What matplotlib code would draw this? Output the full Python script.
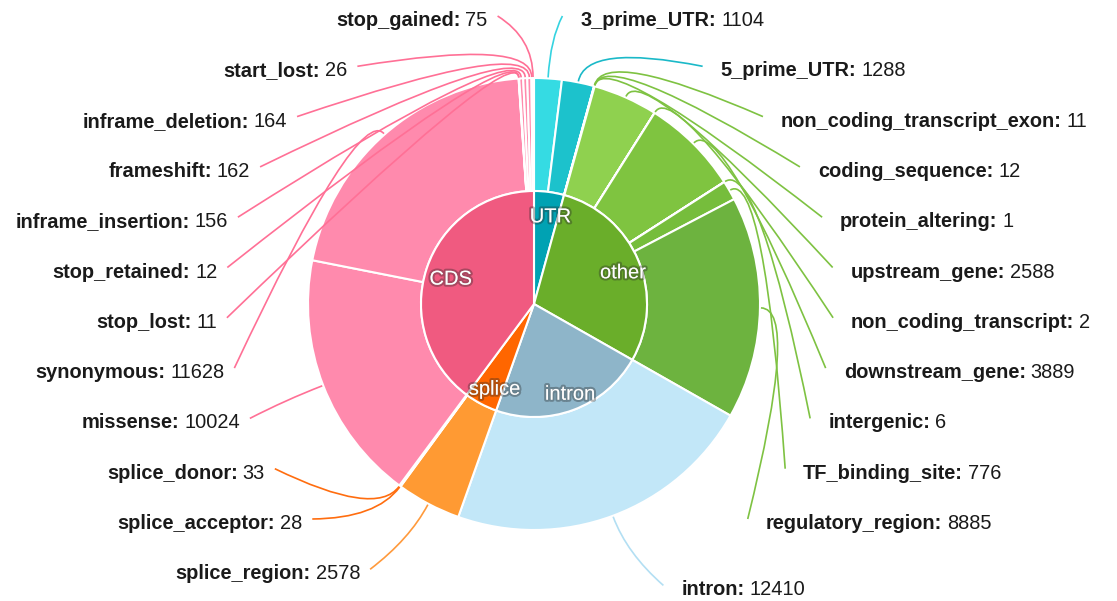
import numpy as np
import matplotlib
matplotlib.use("Agg")
import matplotlib.pyplot as plt
from matplotlib.path import Path
from matplotlib.patches import PathPatch
import matplotlib.patheffects as pe

plt.rcParams['font.family'] = ['Liberation Sans', 'DejaVu Sans']

# inner ring (clockwise from 12 o'clock)
groups = ["UTR", "other", "intron", "splice", "CDS"]
group_colors = ["#00a2b3", "#6aae2a", "#8eb5c9", "#ff6600", "#f05a80"]

# outer ring, per group, clockwise
utr_names = ["3_prime_UTR", "5_prime_UTR"]
utr_counts = [1104, 1288]
other_names = ["non_coding_transcript_exon", "coding_sequence", "protein_altering",
               "upstream_gene", "non_coding_transcript", "downstream_gene",
               "intergenic", "TF_binding_site", "regulatory_region"]
other_counts = [11, 12, 1, 2588, 2, 3889, 6, 776, 8885]
intron_names = ["intron"]
intron_counts = [12410]
splice_names = ["splice_region", "splice_acceptor", "splice_donor"]
splice_counts = [2578, 28, 33]
cds_names = ["missense", "synonymous", "stop_lost", "stop_retained", "inframe_insertion",
             "frameshift", "inframe_deletion", "start_lost", "stop_gained"]
cds_counts = [10024, 11628, 11, 12, 156, 162, 164, 26, 75]

# styles
utr_fill = ["#35dbe3", "#1cc2cc"]
utr_line = ["#35d3e0", "#1bb9c8"]
other_fill = ["#8fd14f", "#8fd14f", "#8fd14f", "#8fd14f", "#7fc440",
              "#7fc440", "#76bd3c", "#76bd3c", "#6db33f"]
other_line = "#7ec242"
intron_fill = "#c2e7f8"
intron_line = "#b3dff3"
splice_fill = ["#ff9a33", "#ff9a33", "#ff9a33"]
splice_line = ["#ff9a3c", "#ff6d0f", "#ff6d0f"]
cds_fill = "#ff8aad"
cds_line = "#ff7096"

W, H = 1117, 601
cx, cy = 534, H - 304
r_in, r_out = 113, 226

group_counts = [sum(utr_counts), sum(other_counts), sum(intron_counts),
                sum(splice_counts), sum(cds_counts)]
outer_names = utr_names + other_names + intron_names + splice_names + cds_names
outer_counts = utr_counts + other_counts + intron_counts + splice_counts + cds_counts
outer_fill = utr_fill + other_fill + [intron_fill] + splice_fill + [cds_fill] * len(cds_names)
outer_line = utr_line + [other_line] * len(other_names) + [intron_line] + splice_line + \
    [cds_line] * len(cds_names)

fig = plt.figure(figsize=(W / 100, H / 100), dpi=100)
ax = fig.add_axes([0, 0, 1, 1])

outer, _ = ax.pie(outer_counts, radius=r_out, center=(cx, cy), startangle=90,
                  counterclock=False, colors=outer_fill, frame=True,
                  wedgeprops=dict(width=r_out - r_in, edgecolor="white", linewidth=1.5))
inner, _ = ax.pie(group_counts, radius=r_in, center=(cx, cy), startangle=90,
                  counterclock=False, colors=group_colors, frame=True,
                  wedgeprops=dict(edgecolor="white", linewidth=1.5))

ax.set_xlim(0, W)
ax.set_ylim(0, H)
ax.set_aspect("auto")
ax.axis("off")


def polar(r, theta):
    t = np.radians(theta)
    return cx + r * np.cos(t), cy + r * np.sin(t)


# inner labels
shadow = [pe.withStroke(linewidth=3, foreground=(0.15, 0.15, 0.15, 0.35))]
for w, g in zip(inner, groups):
    mid = (w.theta1 + w.theta2) / 2
    x, y = polar(92, mid)
    ax.text(x + 4, y - 4, g, color="white", fontsize=14.5, ha="center", va="center",
            path_effects=shadow, zorder=5)

# outer labels with leader lines
renderer = fig.canvas.get_renderer()
label_cy = 296
right, left = [], []
for i, w in enumerate(outer):
    mid = (w.theta1 + w.theta2) / 2
    cw = (90 - mid) % 360
    (right if cw < 180 else left).append((cw, i, mid))
right.sort()
left.sort(reverse=True)

for side, items in ((1, right), (-1, left)):
    for k, (cw, i, mid) in enumerate(items):
        ypx = 19 + 50.3 * k
        if k == len(items) - 1:
            ypx = max(ypx, label_cy - 312 * np.cos(np.radians(cw)))
        dy = ypx - label_cy
        ry = 280 if dy < 0 else 330
        t = min(abs(dy) / ry, 1)
        dx = 318 * np.sqrt(1 - t * t)
        xl = cx + side * dx
        yb = H - (ypx + 7)

        name = outer_names[i] + ":"
        val = str(outer_counts[i])
        if side == 1:
            tn = ax.text(xl, yb, name, fontsize=14.4, fontweight="bold",
                         color="#1a1a1a", ha="left", va="baseline")
            wn = tn.get_window_extent(renderer).width
            ax.text(xl + wn + 5, yb, val, fontsize=14.4, color="#1a1a1a",
                    ha="left", va="baseline")
            end = (xl - 18, H - (ypx - 3))
        else:
            tv = ax.text(xl, yb, val, fontsize=14.4, color="#1a1a1a",
                         ha="right", va="baseline")
            wv = tv.get_window_extent(renderer).width
            ax.text(xl - wv - 5, yb, name, fontsize=14.4, fontweight="bold",
                    color="#1a1a1a", ha="right", va="baseline")
            end = (xl + 10, H - (ypx - 3))

        p0 = polar(r_out + 1, mid)
        c1 = polar(r_out + 40, mid)
        path = Path([p0, c1, end], [Path.MOVETO, Path.CURVE3, Path.CURVE3])
        ax.add_patch(PathPatch(path, facecolor="none", edgecolor=outer_line[i],
                               linewidth=1.2, zorder=4))

fig.savefig("out.png", dpi=100)
